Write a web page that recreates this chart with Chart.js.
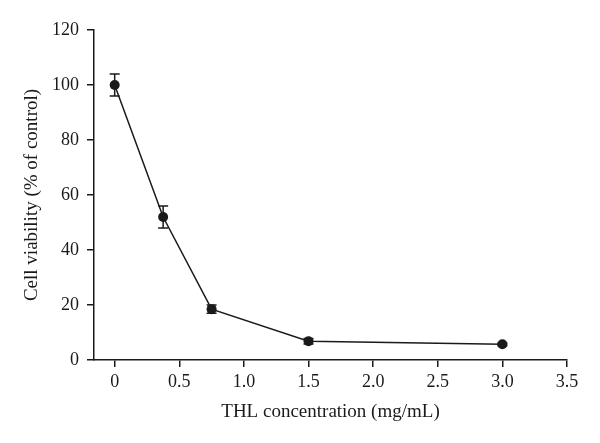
<!DOCTYPE html>
<html>
<head>
<meta charset="utf-8">
<script src="https://cdn.jsdelivr.net/npm/chart.js@4/dist/chart.umd.min.js"></script>
<style>
html,body{margin:0;padding:0;background:#fff;}
#wrap{width:600px;height:443px;position:relative;}
</style>
</head>
<body>
<div id="wrap"><canvas id="c" width="600" height="443"></canvas></div>
<script>
const concentrations = [0, 0.375, 0.75, 1.5, 3.0];
const viability = [100, 52, 18.5, 6.8, 5.7];
const errors = [4, 4, 1.5, 1.0, 0.5];
const xTickValues = [0, 0.5, 1.0, 1.5, 2.0, 2.5, 3.0, 3.5];
const xTickLabels = ['0', '0.5', '1.0', '1.5', '2.0', '2.5', '3.0', '3.5'];
const yTickValues = [0, 20, 40, 60, 80, 100, 120];
const xTitle = 'THL concentration (mg/mL)';
const yTitle = 'Cell viability (% of control)';

const FONT = "'Liberation Serif', 'Times New Roman', serif";
const INK = '#1a1a1a';

const errorBars = {
  id: 'errorBars',
  beforeDatasetsDraw(chart) {
    const ctx = chart.ctx;
    const xs = chart.scales.x, ys = chart.scales.y;
    ctx.save();
    ctx.strokeStyle = INK;
    ctx.lineWidth = 1.5;
    concentrations.forEach((c, i) => {
      const e = errors[i];
      if (!e) return;
      const px = xs.getPixelForValue(c);
      const top = ys.getPixelForValue(viability[i] + e);
      const bot = ys.getPixelForValue(viability[i] - e);
      ctx.beginPath();
      ctx.moveTo(px, top); ctx.lineTo(px, bot);
      ctx.moveTo(px - 5, top); ctx.lineTo(px + 5, top);
      ctx.moveTo(px - 5, bot); ctx.lineTo(px + 5, bot);
      ctx.stroke();
    });
    ctx.restore();
  }
};

new Chart(document.getElementById('c'), {
  type: 'scatter',
  data: {
    datasets: [{
      data: concentrations.map((x, i) => ({x: x, y: viability[i]})),
      showLine: true,
      borderColor: INK,
      borderWidth: 1.5,
      backgroundColor: INK,
      pointBackgroundColor: INK,
      pointBorderColor: INK,
      pointRadius: 5,
      pointBorderWidth: 0,
      tension: 0
    }]
  },
  options: {
    responsive: false,
    animation: false,
    devicePixelRatio: 1,
    plugins: { legend: {display: false}, tooltip: {enabled: false} },
    layout: { padding: {left: 0, top: 30, right: 33, bottom: 0} },
    scales: {
      x: {
        type: 'linear',
        min: -0.16,
        max: 3.5,
        afterBuildTicks(scale) { scale.ticks = xTickValues.map(v => ({value: v})); },
        afterFit(scale) { scale.height = 83; },
        grid: { drawOnChartArea: false, drawTicks: true, tickLength: 7, color: INK, lineWidth: 1.5 },
        border: { display: true, color: INK, width: 1.5 },
        ticks: {
          color: INK, font: {family: FONT, size: 18}, padding: 4, autoSkip: false, maxRotation: 0,
          callback(v) { const i = xTickValues.indexOf(v); return i >= 0 ? xTickLabels[i] : ''; }
        },
        title: { display: true, text: xTitle, color: INK, font: {family: FONT, size: 19}, padding: {top: 4, bottom: 20} }
      },
      y: {
        type: 'linear',
        min: 0,
        max: 120,
        afterBuildTicks(scale) { scale.ticks = yTickValues.map(v => ({value: v})); },
        afterFit(scale) { scale.width = 94; },
        grid: { drawOnChartArea: false, drawTicks: true, tickLength: 7, color: INK, lineWidth: 1.5 },
        border: { display: true, color: INK, width: 1.5 },
        ticks: { color: INK, font: {family: FONT, size: 18}, padding: 8, autoSkip: false },
        title: { display: true, text: yTitle, color: INK, font: {family: FONT, size: 19}, padding: {top: 20.5, bottom: 4} }
      }
    }
  },
  plugins: [errorBars]
});
</script>
</body>
</html>
